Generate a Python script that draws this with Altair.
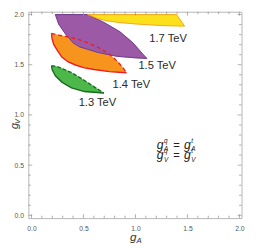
import altair as alt
import pandas as pd

# ---- region boundaries (g_A, g_V) ----
green_upper_x = [0.193, 0.261, 0.385, 0.510, 0.603, 0.696]
green_upper_y = [1.490, 1.477, 1.421, 1.343, 1.280, 1.218]
green_lower_x = [0.696, 0.510, 0.385, 0.292, 0.230, 0.199, 0.193]
green_lower_y = [1.218, 1.233, 1.270, 1.327, 1.390, 1.453, 1.490]

orange_upper_x = [0.193, 0.261, 0.338, 0.450, 0.550, 0.650, 0.750, 0.830, 0.880, 0.913]
orange_upper_y = [1.812, 1.795, 1.780, 1.752, 1.715, 1.668, 1.605, 1.530, 1.470, 1.420]
orange_lower_x = [0.913, 0.750, 0.603, 0.500, 0.417, 0.350, 0.292, 0.250, 0.214, 0.198, 0.193]
orange_lower_y = [1.420, 1.432, 1.453, 1.472, 1.500, 1.530, 1.577, 1.640, 1.702, 1.760, 1.812]

purple_x = [0.230, 0.541, 0.696, 0.851, 0.976, 1.069, 1.109,
            1.007, 0.820, 0.634, 0.463, 0.401, 0.323, 0.261, 0.230]
purple_y = [2.000, 2.000, 1.922, 1.828, 1.718, 1.608, 1.563,
            1.568, 1.584, 1.624, 1.678, 1.718, 1.812, 1.906, 2.000]

yellow_x = [0.541, 1.395, 1.472, 1.255, 1.007, 0.850, 0.727, 0.634, 0.541]
yellow_y = [2.000, 2.000, 1.885, 1.890, 1.906, 1.920, 1.937, 1.962, 2.000]

label_text = ["1.7 TeV", "1.5 TeV", "1.4 TeV", "1.3 TeV"]
label_x = [1.314, 1.209, 0.960, 0.634]
label_y = [1.756, 1.484, 1.296, 1.115]

tick_labels = [0.0, 0.5, 1.0, 1.5, 2.0]
major_ticks = [0.0, 0.5, 1.0, 1.5, 2.0]
minor_ticks = [0.1, 0.2, 0.3, 0.4, 0.6, 0.7, 0.8, 0.9, 1.1, 1.2, 1.3, 1.4,
               1.6, 1.7, 1.8, 1.9]

W, H = 220, 213
FONT = "Liberation Sans"
xsc = alt.Scale(domain=[-0.03, 2.02], nice=False, zero=False)
ysc = alt.Scale(domain=[-0.028, 2.028], nice=False, zero=False)
xaxis = alt.Axis(values=tick_labels, format=".1f", ticks=False, tickSize=0,
                 domain=False, grid=False, title="", labelFontSize=7,
                 labelColor="#555", labelPadding=7, labelFont=FONT)
yaxis = alt.Axis(values=tick_labels, format=".1f", ticks=False, tickSize=0,
                 domain=False, grid=False, title="", labelFontSize=7,
                 labelColor="#555", labelPadding=5, labelFont=FONT)


def X(f="x"):
    return alt.X(f"{f}:Q", scale=xsc, axis=xaxis)


def Y(f="y"):
    return alt.Y(f"{f}:Q", scale=ysc, axis=yaxis)


def df_of(xs, ys):
    return pd.DataFrame({"x": xs, "y": ys, "i": list(range(len(xs)))})


def fill(xs, ys, color):
    return alt.Chart(df_of(xs, ys)).mark_line(
        fill=color, stroke=color, strokeWidth=0.5).encode(
        x=X(), y=Y(), order=alt.Order("i:Q"))


def edge(xs, ys, color, width=1.5, dash=None):
    kw = dict(color=color, strokeWidth=width)
    if dash:
        kw["strokeDash"] = dash
    return alt.Chart(df_of(xs, ys)).mark_line(**kw).encode(
        x=X(), y=Y(), order=alt.Order("i:Q"))


layers = [
    fill(green_upper_x + green_lower_x[1:], green_upper_y + green_lower_y[1:], "#4DB84A"),
    fill(orange_upper_x + orange_lower_x[1:], orange_upper_y + orange_lower_y[1:], "#F7941E"),
    fill(purple_x, purple_y, "#9B59A6"),
    fill(yellow_x, yellow_y, "#FDE01C"),
    edge(green_lower_x, green_lower_y, "#1B6B22", 1.4),
    edge(green_upper_x, green_upper_y, "#1B6B22", 1.4, [4, 2]),
    edge(orange_lower_x, orange_lower_y, "#EE1D25", 1.4),
    edge(purple_x, purple_y, "#6F3C8C", 1.0),
    edge(orange_upper_x, orange_upper_y, "#EE1D25", 1.4, [4, 3]),
    edge(yellow_x, yellow_y, "#F4A71E", 1.0),
]

# region labels
lab = alt.Chart(pd.DataFrame({"x": label_x, "y": label_y, "t": label_text})).mark_text(
    font=FONT, fontSize=11.5, color="#2a2a2a").encode(x=X(), y=Y(), text="t:N")
layers.append(lab)

# frame ticks on all four sides, pointing inwards
tick_col = "#999999"


def ticks(vals, length, side):
    d = pd.DataFrame({"v": vals})
    c = alt.Chart(d).mark_rule(color=tick_col, strokeWidth=0.8)
    if side == "bottom":
        return c.encode(x=X("v"), y=alt.value(H), y2=alt.value(H - length))
    if side == "top":
        return c.encode(x=X("v"), y=alt.value(0), y2=alt.value(length))
    if side == "left":
        return c.encode(y=Y("v"), x=alt.value(0), x2=alt.value(length))
    return c.encode(y=Y("v"), x=alt.value(W), x2=alt.value(W - length))


for s in ["bottom", "top", "left", "right"]:
    layers.append(ticks(major_ticks, 4, s))
    layers.append(ticks(minor_ticks, 2.5, s))

# annotation  g_A^q = g_A^t ;  g_V^q = g_V^t
ann_x = 1.205
ann_rows = [(0.665, "A"), (0.565, "V")]
parts = []
for yv, sub in ann_rows:
    parts += [
        (yv, "g", 0, 0, 12.5),
        (yv, "q", 7.5, -6, 6.5),
        (yv, sub, 7.5, 3, 6.5),
        (yv, "=", 17, 0, 11.5),
        (yv, "g", 28, 0, 12.5),
        (yv, "t", 35.5, -6, 6.5),
        (yv, sub, 35.5, 3, 6.5),
    ]
for yv, t, dx, dy, fs in parts:
    layers.append(alt.Chart(pd.DataFrame({"x": [ann_x], "y": [yv], "t": [t]})).mark_text(
        font=FONT, fontSize=fs, fontStyle="normal" if t == "=" else "italic",
        align="left", baseline="alphabetic", dx=dx, dy=dy, color="#222").encode(
        x=X(), y=Y(), text="t:N"))

# axis titles g_A, g_V
title_df = pd.DataFrame({"x": [1.0]})
layers.append(alt.Chart(title_df).mark_text(font=FONT, fontSize=12, fontStyle="italic",
    align="right", baseline="alphabetic", color="#333", dx=1).encode(
    x=X(), y=alt.value(H + 24), text=alt.value("g")))
layers.append(alt.Chart(title_df).mark_text(font=FONT, fontSize=8, fontStyle="italic",
    align="left", baseline="alphabetic", color="#333", dx=1, dy=2).encode(
    x=X(), y=alt.value(H + 24), text=alt.value("A")))
ytitle_df = pd.DataFrame({"y": [0.92]})
layers.append(alt.Chart(ytitle_df).mark_text(font=FONT, fontSize=11, fontStyle="italic",
    align="right", baseline="alphabetic", color="#333", angle=270, dy=0).encode(
    y=Y(), x=alt.value(-11), text=alt.value("g")))
layers.append(alt.Chart(ytitle_df).mark_text(font=FONT, fontSize=7.5, fontStyle="italic",
    align="left", baseline="alphabetic", color="#333", angle=270, dx=-1).encode(
    y=Y(), x=alt.value(-9), text=alt.value("V")))

chart = alt.layer(*layers).properties(
    width=W, height=H,
    autosize=alt.AutoSizeParams(type="none"),
    padding={"left": 21, "top": 0, "right": 17, "bottom": 28},
).configure_view(stroke="#b5b5b5", strokeWidth=1)

chart.save("out.html", embed_options={"renderer": "svg", "actions": False})
